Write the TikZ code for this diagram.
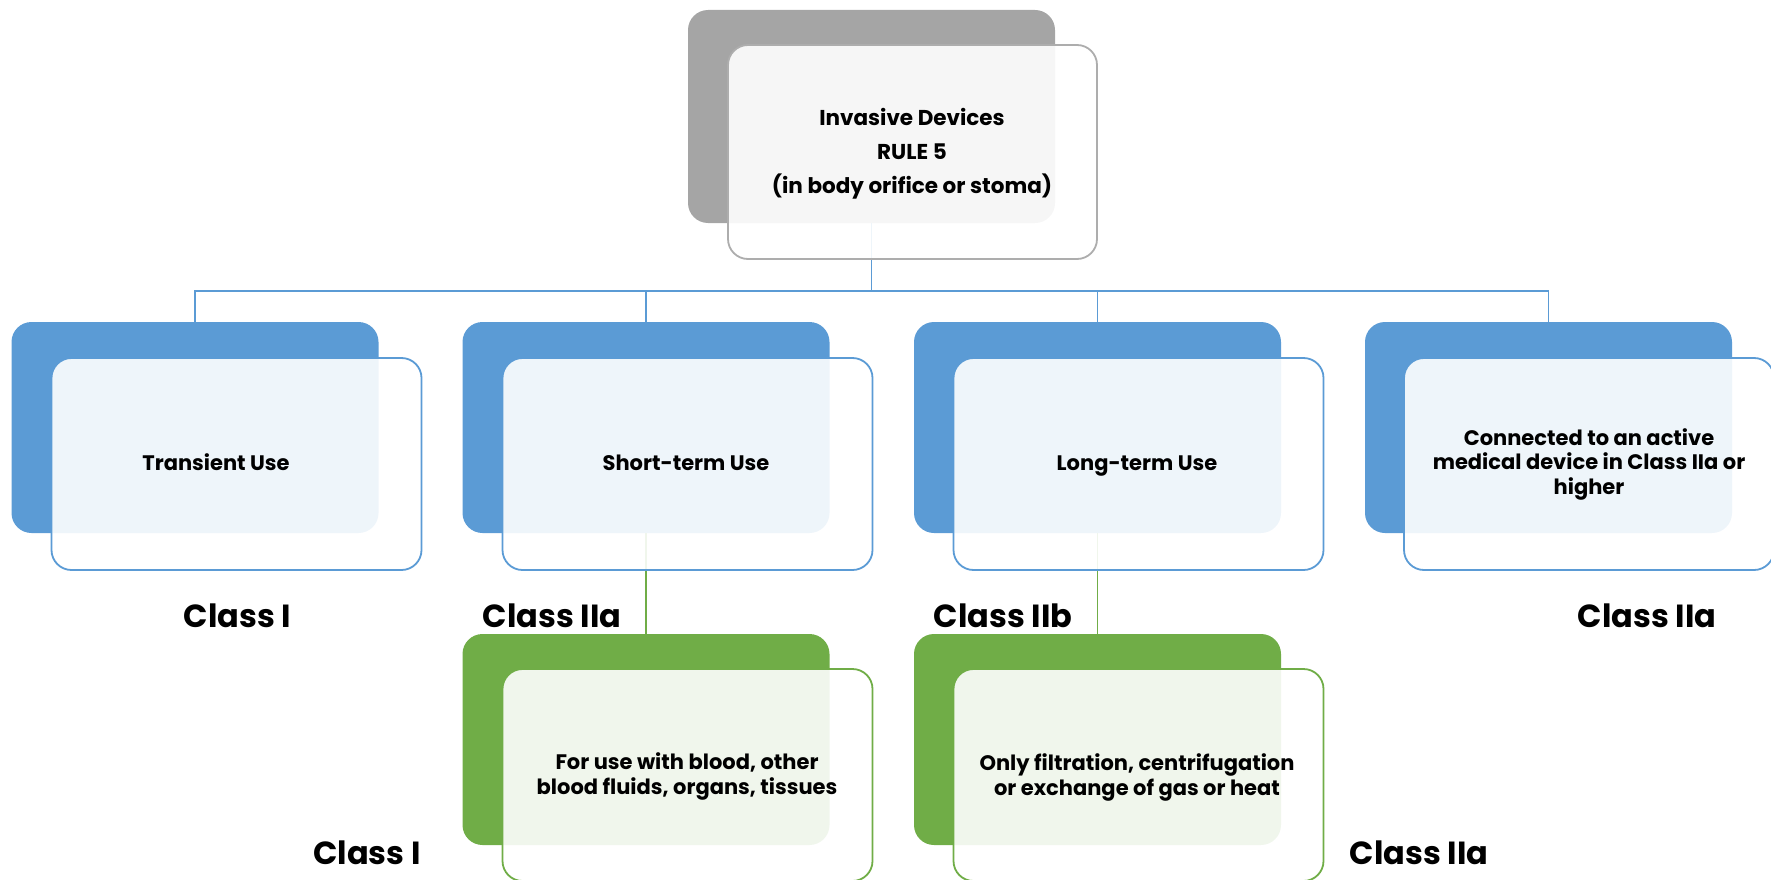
\documentclass[tikz,border=0pt]{standalone}
\usepackage{fontspec}
\setmainfont{Poppins}
\usetikzlibrary{calc}
\definecolor{cblue}{HTML}{5B9BD5}
\definecolor{cgreen}{HTML}{70AD47}
\definecolor{cgray}{HTML}{A5A5A5}
\definecolor{cgrayline}{HTML}{ADADAD}
\begin{document}
\begin{tikzpicture}[x=1pt,y=-1pt,
  backbox/.style={rectangle, rounded corners=20pt, minimum width=367pt, minimum height=211pt, inner sep=0pt},
  frontbox/.style={rectangle, rounded corners=20pt, fill=white, fill opacity=0.9, line width=1.8pt, minimum width=370pt, minimum height=212pt, inner sep=0pt},
  boxtext/.style={font=\fontsize{21}{24.5}\selectfont\bfseries, align=center, inner sep=0pt},
  toptext/.style={font=\fontsize{21.5}{34}\selectfont\bfseries, align=center, inner sep=0pt},
  classlbl/.style={font=\fontsize{32}{38}\selectfont\bfseries, inner sep=0pt, anchor=base},
  bconn/.style={draw=cblue, line width=1.5pt},
  gconn/.style={draw=cgreen, line width=1.5pt}]
\useasboundingbox (0,0) rectangle (1771,880);
\clip (0,0) rectangle (1771,880);

% back boxes
\node[backbox, fill=cgray, minimum height=213pt] (tb) at (871.5,116.5) {};
\node[backbox, fill=cblue] (b1) at (195,427.5) {};
\node[backbox, fill=cblue] (b2) at (646,427.5) {};
\node[backbox, fill=cblue] (b3) at (1097.5,427.5) {};
\node[backbox, fill=cblue] (b4) at (1548.5,427.5) {};
\node[backbox, fill=cgreen] (g2) at (646,739.5) {};
\node[backbox, fill=cgreen] (g3) at (1097.5,739.5) {};

% connectors
\coordinate (bus) at (0,291);
\draw[bconn] (tb.south) -- (tb.south |- bus);
\draw[bconn] (tb.south |- bus) -| (b1.north);
\draw[bconn] (tb.south |- bus) -| (b2.north);
\draw[bconn] (tb.south |- bus) -| (b3.north);
\draw[bconn] (tb.south |- bus) -| (b4.north);
\draw[gconn] (b2.south) -- (g2.north);
\draw[gconn] (b3.south) -- (g3.north);

% front boxes
\node[frontbox, draw=cgrayline, minimum width=369pt, minimum height=214pt] (tf) at (912.5,152) {};
\node[frontbox, draw=cblue] (f1) at (236.5,464) {};
\node[frontbox, draw=cblue] (f2) at (687.5,464) {};
\node[frontbox, draw=cblue] (f3) at (1138.5,464) {};
\node[frontbox, draw=cblue] (f4) at (1589,464) {};
\node[frontbox, draw=cgreen] (h2) at (687.5,775) {};
\node[frontbox, draw=cgreen] (h3) at (1138.5,775) {};

% texts
\node[toptext] (tt) at (912,154) {Invasive Devices\\RULE 5\\(in body orifice or stoma)};
\node[boxtext, anchor=base] (t1) at (216,470) {Transient Use};
\node[boxtext, anchor=base] (t2) at (686,470) {Short-term Use};
\node[boxtext, anchor=base] (t3) at (1137,470) {Long-term Use};
\node[boxtext] (t4) at (1589,464) {Connected to an active\\medical device in Class IIa or\\higher};
\node[boxtext] (s2) at (687,776.5) {For use with blood, other\\blood fluids, organs, tissues};
\node[boxtext] (s3) at (1137,777.5) {Only filtration, centrifugation\\or exchange of gas or heat};

% class labels
\node[classlbl] (c1) at (237.5,627) {Class I};
\node[classlbl] (c2) at (552,627) {Class IIa};
\node[classlbl] (c3) at (1003,627) {Class IIb};
\node[classlbl] (c4) at (1647,627) {Class IIa};
\node[classlbl] (c5) at (367,864) {Class I};
\node[classlbl] (c6) at (1419,864) {Class IIa};
\end{tikzpicture}
\end{document}
